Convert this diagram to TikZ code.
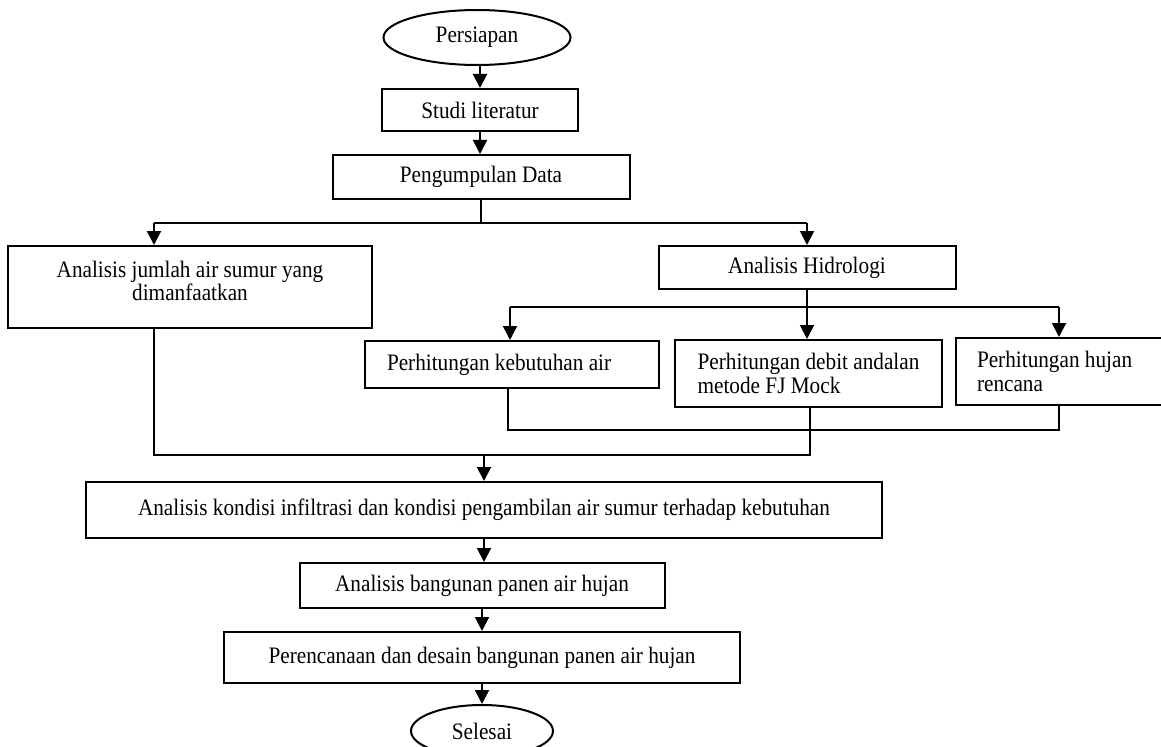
\documentclass[tikz,border=0pt]{standalone}
\usepackage{fontspec}
\setmainfont{Liberation Serif}[FakeStretch=0.9]
\usetikzlibrary{arrows.meta,shapes.geometric}
\begin{document}
\begin{tikzpicture}[x=1bp,y=-1bp,
  every node/.style={font=\fontsize{23.6bp}{23.5bp}\selectfont},
  box/.style={draw,line width=2bp,rectangle,inner sep=0pt,align=center},
  lbox/.style={box,inner xsep=21bp,align=flush left},
  term/.style={draw,line width=2bp,ellipse,inner sep=0pt},
  conn/.style={line width=2bp},
  arr/.style={conn,-{Triangle[length=14bp,width=14bp]}}]
\useasboundingbox (0,0) rectangle (1161,747);

\node[term,minimum width=187bp,minimum height=55bp] (persiapan) at (477,37.5) {Persiapan};
\node[box,minimum width=196bp,minimum height=42bp] (studi) at (480,110) {Studi literatur};
\node[box,minimum width=297bp,minimum height=44bp] (data) at (481,177) {Pengumpulan Data};
\node[box,minimum width=364bp,minimum height=82bp,text depth=12bp] (jumlah) at (190,287) {Analisis jumlah air sumur yang\\dimanfaatkan};
\node[box,minimum width=297bp,minimum height=43bp] (hidro) at (807,267.5) {Analisis Hidrologi};
\node[lbox,minimum width=294bp,minimum height=47bp,text width=250bp,inner xsep=22bp] (kebut) at (512,364.5) {Perhitungan kebutuhan air};
\node[box,minimum width=267bp,minimum height=67bp,align=left] (debit) at (808.5,373.5) {Perhitungan debit andalan\\metode FJ Mock};
\node[lbox,minimum width=209bp,minimum height=67bp,text width=167bp] (hujan) at (1060.5,371.5) {Perhitungan hujan\\rencana};
\node[box,minimum width=796bp,minimum height=56bp] (kondisi) at (484,510) {Analisis kondisi infiltrasi dan kondisi pengambilan air sumur terhadap kebutuhan};
\node[box,minimum width=365bp,minimum height=45bp] (bangunan) at (482,585.5) {Analisis bangunan panen air hujan};
\node[box,minimum width=516bp,minimum height=51bp] (rencana) at (482,657.5) {Perencanaan dan desain bangunan panen air hujan};
\node[term,minimum width=142bp,minimum height=52bp] (selesai) at (482,731) {Selesai};

% top column
\draw[arr] (studi.north |- persiapan.south) -- (studi.north);
\draw[arr] (studi.south) -- (studi.south |- data.north);

% first branch
\coordinate (b1) at (154,223);
\coordinate (b2) at (807,223);
\draw[conn] (data.south) -- (data.south |- b1);
\draw[conn] (b1) -- (b2);
\draw[arr] (b1) -- (b1 |- jumlah.north);
\draw[arr] (b2) -- (b2 |- hidro.north);

% hydrology branch
\coordinate (h1) at (510,307);
\coordinate (h3) at (1059,307);
\draw[conn] (hidro.south) -- (hidro.south |- h1);
\draw[conn] (h1) -- (h3);
\draw[arr] (h1) -- (h1 |- kebut.north);
\draw[arr] (hidro.south |- h1) -- (hidro.south |- debit.north);
\draw[arr] (h3) -- (h3 |- hujan.north);

% merges
\coordinate (m1) at (508,430);
\coordinate (m2) at (1059,430);
\draw[conn] (m1 |- kebut.south) -- (m1) -- (m2) -- (m2 |- hujan.south);
\coordinate (n1) at (154,455);
\coordinate (n2) at (810,455);
\coordinate (n3) at (484,455);
\draw[conn] (n1 |- jumlah.south) -- (n1) -- (n2) -- (n2 |- debit.south);
\draw[arr] (n3) -- (kondisi.north);

% bottom column
\draw[arr] (kondisi.south) -- (kondisi.south |- bangunan.north);
\draw[arr] (bangunan.south) -- (bangunan.south |- rencana.north);
\draw[arr] (rencana.south) -- (rencana.south |- selesai.north);
\end{tikzpicture}
\end{document}
